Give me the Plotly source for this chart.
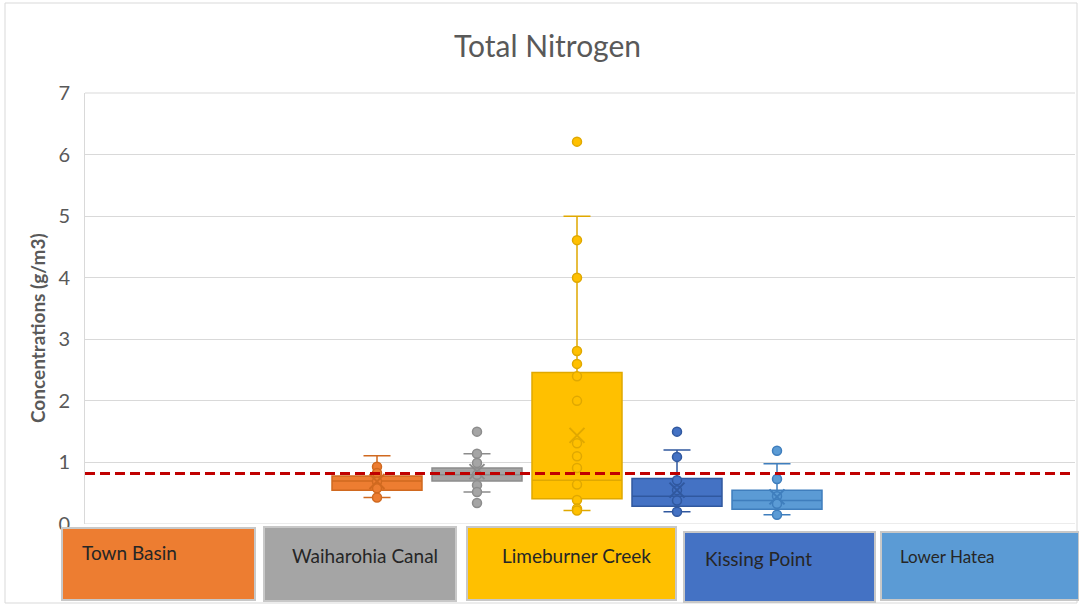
import plotly.graph_objects as go

sites = ["Town Basin", "Waiharohia Canal", "Limeburner Creek", "Kissing Point", "Lower Hatea"]
colors = ["#ED7D31", "#A5A5A5", "#FFC000", "#4472C4", "#5B9BD5"]
edge_colors = ["#D0691F", "#8C8C8C", "#E0A800", "#30589F", "#3F7EBD"]
positions = [0, 1, 2, 3, 4]

q1 = [0.55, 0.70, 0.41, 0.29, 0.24]
median = [0.70, 0.80, 0.71, 0.45, 0.38]
q3 = [0.78, 0.91, 2.46, 0.74, 0.55]
lower_whisker = [0.43, 0.52, 0.22, 0.20, 0.15]
upper_whisker = [1.11, 1.14, 5.00, 1.20, 0.98]
means = [0.69, 0.85, 1.44, 0.55, 0.44]

points = [
    [0.93, 0.83, 0.69, 0.58, 0.43],
    [1.50, 1.14, 0.99, 0.80, 0.63, 0.52, 0.34],
    [6.21, 4.61, 4.00, 2.81, 2.60, 2.40, 2.00, 1.31, 1.10, 0.91, 0.64, 0.39, 0.25, 0.22],
    [1.50, 1.09, 0.71, 0.55, 0.38, 0.20],
    [1.19, 0.73, 0.45, 0.33, 0.15],
]

guideline = 0.82
y_ticks = [0, 1, 2, 3, 4, 5, 6, 7]

W, H = 1079, 605
L, R, T, B = 85, 1075, 93, 524

def px(x):
    return (x - L) / (R - L)

def py(y):
    return (B - y) / (B - T)

fig = go.Figure()
for i, name in enumerate(sites):
    fig.add_trace(go.Box(
        x=[positions[i]], q1=[q1[i]], median=[median[i]], q3=[q3[i]],
        lowerfence=[lower_whisker[i]], upperfence=[upper_whisker[i]],
        name=name, width=0.9, whiskerwidth=0.3,
        fillcolor=colors[i], line=dict(color=edge_colors[i], width=1.5),
        boxpoints=False, showlegend=False, hoverinfo="skip",
    ))
    fig.add_trace(go.Scatter(
        x=[positions[i]] * len(points[i]), y=points[i], mode="markers",
        marker=dict(symbol="circle", size=9, color=colors[i],
                    line=dict(color=edge_colors[i], width=1.5)),
        showlegend=False, hoverinfo="skip",
    ))
    fig.add_trace(go.Scatter(
        x=[positions[i]], y=[means[i]], mode="markers",
        marker=dict(symbol="x-thin", size=15, color=edge_colors[i],
                    line=dict(color=edge_colors[i], width=2)),
        showlegend=False, hoverinfo="skip",
    ))

shapes = [
    dict(type="line", xref="paper", yref="y", x0=0, x1=1, y0=guideline, y1=guideline,
         line=dict(color="#C00000", width=3, dash="10px,5px"), layer="above"),
    dict(type="rect", xref="paper", yref="paper", x0=px(5), x1=px(1077), y0=py(603), y1=py(3),
         line=dict(color="#D9D9D9", width=1), layer="below"),
    dict(type="line", xref="paper", yref="paper", x0=0, x1=1, y0=1, y1=1,
         line=dict(color="#D9D9D9", width=1), layer="below"),
    dict(type="line", xref="paper", yref="y", x0=0, x1=1, y0=0, y1=0,
         line=dict(color="#D9D9D9", width=1), layer="below"),
]

legend_boxes = [
    (62, 255, 528, 600),
    (264, 456, 527, 601),
    (467, 676, 527, 600),
    (684, 875, 532, 602),
    (881, 1079, 532, 600),
]
legend_text = [
    (80, 552, 19),
    (290, 555, 19),
    (500, 555, 19),
    (703, 558, 19),
    (898, 556, 17),
]
annotations = []
for i, name in enumerate(sites):
    x0, x1, y0, y1 = legend_boxes[i]
    shapes.append(dict(type="rect", xref="paper", yref="paper",
                       x0=px(x0), x1=px(x1), y0=py(y1), y1=py(y0),
                       fillcolor=colors[i], line=dict(color="#C8C8C8", width=2), layer="above"))
    tx, ty, fs = legend_text[i]
    annotations.append(dict(text=name, xref="paper", yref="paper", x=px(tx), y=py(ty),
                            xanchor="left", yanchor="middle", showarrow=False,
                            font=dict(family="Lato", size=fs, color="#262626")))

annotations.append(dict(text="<b>Concentrations (g/m3)</b>", xref="paper", yref="paper",
                        x=px(37), y=py(328), xanchor="center", yanchor="middle",
                        textangle=-90, showarrow=False,
                        font=dict(family="Lato", size=19, color="#595959")))
annotations.append(dict(text="Total Nitrogen", xref="paper", yref="paper",
                        x=px(547), y=py(45), xanchor="center", yanchor="middle",
                        showarrow=False,
                        font=dict(family="Lato", size=30, color="#595959")))

fig.update_layout(
    width=W, height=H,
    margin=dict(l=L, r=W - R, t=T, b=H - B),
    paper_bgcolor="white", plot_bgcolor="white",
    xaxis=dict(range=[-2.92, 6.98], showticklabels=False, showgrid=False, zeroline=False,
               showline=False, fixedrange=True),
    yaxis=dict(range=[0, 7], tickvals=y_ticks, showgrid=True, gridcolor="#D9D9D9", gridwidth=1,
               zeroline=False, showline=True, linecolor="#D9D9D9", mirror=False,
               tickfont=dict(family="Lato", size=20, color="#595959"), ticks="",
               ticklabelstandoff=10),
    shapes=shapes, annotations=annotations, showlegend=False,
)

fig.write_html("out.html", config={"displayModeBar": False},
               post_script="document.body.style.margin='0';document.body.style.padding='0';")
